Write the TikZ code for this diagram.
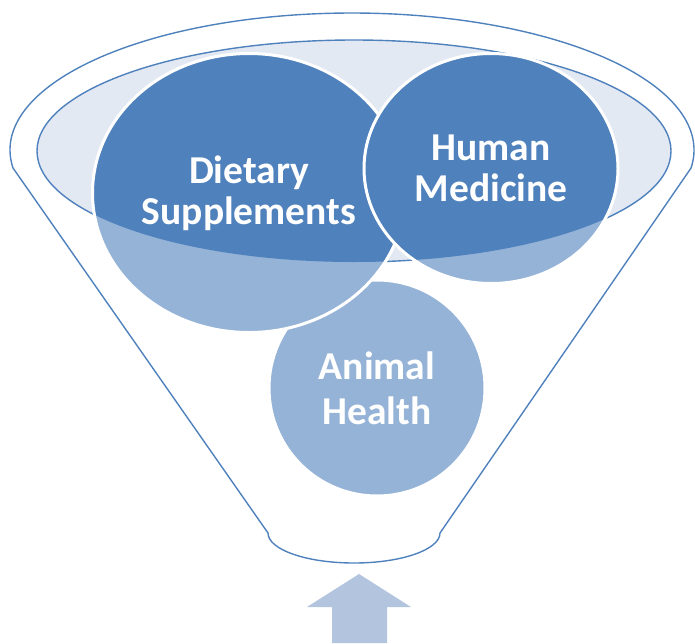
\documentclass[tikz,border=0pt]{standalone}
\usepackage{fontspec}
\newfontfamily\bubblefont{Carlito}
\usepackage{tikz}
\usetikzlibrary{shapes.geometric}

\definecolor{rimblue}{RGB}{79,129,189}
\definecolor{paleblue}{RGB}{149,179,215}
\definecolor{rimfill}{RGB}{227,233,243}
\definecolor{arrowblue}{RGB}{179,196,222}

\tikzset{
  bubble/.style={ellipse, fill=paleblue, draw=white, line width=3pt, inner sep=0pt,
    text=white, align=center, font=\bubblefont\bfseries\fontsize{39.5}{41}\selectfont,
    path picture={\fill[rimblue] (rim) ellipse [x radius=317pt, y radius=111pt];}},
  funnel/.style={draw=rimblue, line width=1.4pt},
}

\begin{document}
\begin{tikzpicture}[x=1pt,y=1pt,yscale=-1,xscale=1]
\useasboundingbox (0,0) rectangle (695,643);

%Funnel rim
\coordinate (rim) at (354,151);
\draw [funnel, fill=rimfill] (rim) ellipse [x radius=317, y radius=111];

%Circles
\node [bubble, minimum width=216pt, minimum height=216pt] (animal) at (377,388) {Animal\\[4pt]Health};
\node [bubble, minimum width=313pt, minimum height=279pt] (diet) at (249,193) {Dietary\\Supplements};
\node [bubble, minimum width=254pt, minimum height=230pt] (human) at (491,168.5) {Human\\Medicine};

%Funnel body
\draw [funnel] (13,168) arc [start angle=172.45, end angle=367.55, x radius=342, y radius=137]
  -- (440,533) arc [start angle=0, end angle=180, x radius=86, y radius=30] -- cycle;

%Up arrow
\fill [arrowblue] (332,643) -- (332,607) -- (307,607) -- (359,574) -- (411,607) -- (387,607) -- (387,643) -- cycle;

\end{tikzpicture}
\end{document}
